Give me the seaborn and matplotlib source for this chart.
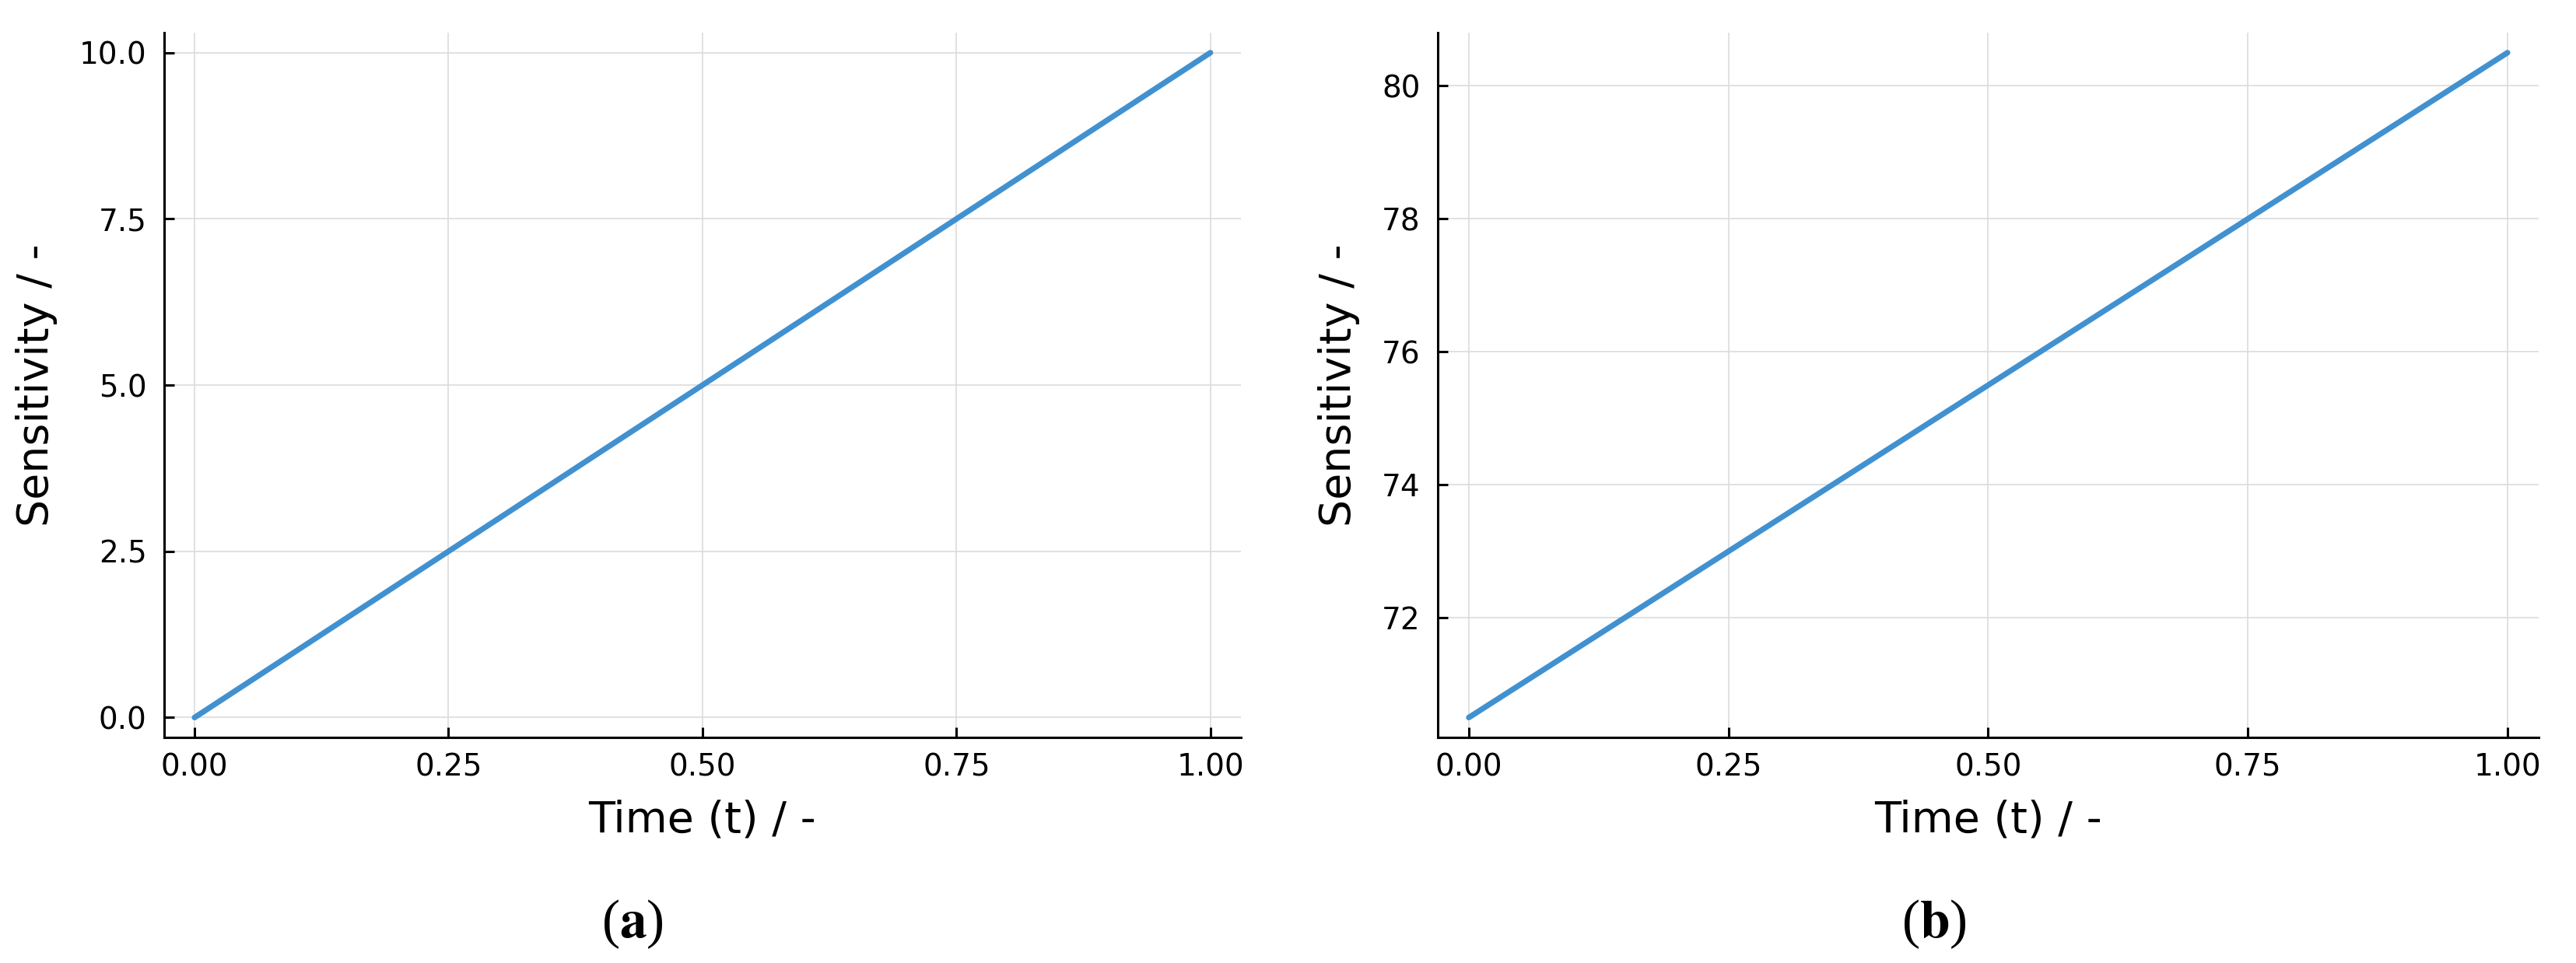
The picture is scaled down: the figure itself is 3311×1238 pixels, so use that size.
import numpy as np
import pandas as pd
import seaborn as sns
from matplotlib import pyplot as plt

# values
t = [0.0, 1.0]
sens_a = [0.0, 10.0]
sens_b = [70.5, 80.5]
xticks = [0.0, 0.25, 0.5, 0.75, 1.0]
xticklabels = ["0.00", "0.25", "0.50", "0.75", "1.00"]
yticks_a = [0.0, 2.5, 5.0, 7.5, 10.0]
yticklabels_a = ["0.0", "2.5", "5.0", "7.5", "10.0"]
yticks_b = [72, 74, 76, 78, 80]
yticklabels_b = ["72", "74", "76", "78", "80"]
captions = ["a", "b"]

sns.set_theme(style="ticks")
plt.rcParams["font.family"] = ["DejaVu Sans"]
plt.rcParams["text.color"] = "black"
plt.rcParams["axes.labelcolor"] = "black"
plt.rcParams["mathtext.fontset"] = "stix"

line_color = "#4191d0"

df_a = pd.DataFrame({"t": t, "s": sens_a})
df_b = pd.DataFrame({"t": t, "s": sens_b})

fig = plt.figure(figsize=(16.555, 6.19), dpi=200)
ax1 = fig.add_axes([0.0637, 0.2342, 0.418, 0.7318])
ax2 = fig.add_axes([0.5581, 0.2342, 0.4274, 0.7318])

panels = [
    (ax1, df_a, yticks_a, yticklabels_a),
    (ax2, df_b, yticks_b, yticklabels_b),
]

for ax, df, yt, ytl in panels:
    sns.lineplot(data=df, x="t", y="s", ax=ax, color=line_color, linewidth=2.6)
    ax.set_xlim(-0.03, 1.03)
    lo, hi = df["s"].min(), df["s"].max()
    m = 0.03 * (hi - lo)
    ax.set_ylim(lo - m, hi + m)
    ax.set_xticks(xticks)
    ax.set_xticklabels(xticklabels)
    ax.set_yticks(yt)
    ax.set_yticklabels(ytl)
    ax.grid(True, color="#dcdcdc", linewidth=0.6)
    ax.set_axisbelow(True)
    for side in ["top", "right"]:
        ax.spines[side].set_visible(False)
    for side in ["left", "bottom"]:
        ax.spines[side].set_color("black")
        ax.spines[side].set_linewidth(1.1)
    ax.tick_params(direction="in", length=4.8, width=1.1, colors="black",
                   labelcolor="black", labelsize=14)
    ax.tick_params(axis="x", pad=7)
    ax.tick_params(axis="y", pad=8)
    ax.set_xlabel("Time (t) / -", fontsize=20, labelpad=8, color="black")
    ax.set_ylabel("Sensitivity / -", fontsize=20, labelpad=10, color="black")

# sub-figure captions: regular parentheses, bold letter
for xc, cap in zip([0.2455, 0.7508], captions):
    fig.text(xc, 1 - 1188 / 1238, "($\\mathbf{" + cap + "}$)", ha="center",
             va="center", fontsize=25, family="Liberation Serif",
             color="black")

fig.savefig("out.png", dpi=200)
